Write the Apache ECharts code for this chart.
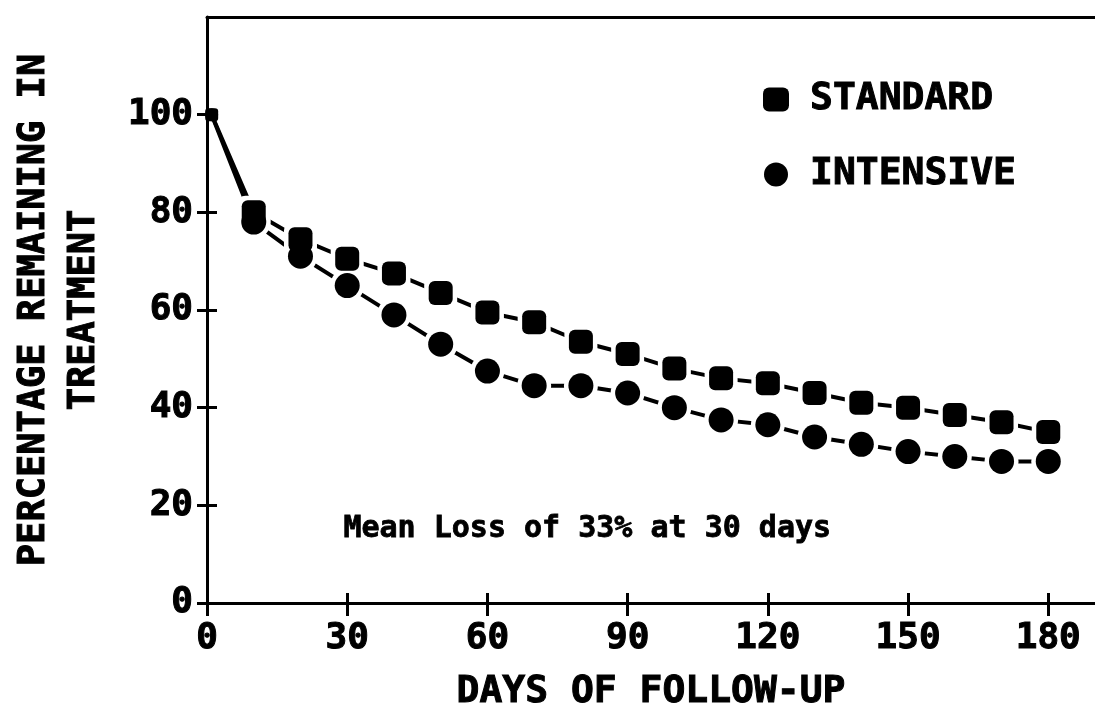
<!DOCTYPE html>
<html>
<head>
<meta charset="utf-8">
<script src="https://cdn.jsdelivr.net/npm/echarts@6/dist/echarts.min.js"></script>
<style>
  html, body { margin: 0; padding: 0; background: #fff; }
  #chart { width: 1095px; height: 709px; }
</style>
</head>
<body>
<div id="chart"></div>
<script>
/* Retention curves: standard vs intensive treatment. */
(function (window, document) {
  "use strict";

  const days = [1, 10, 20, 30, 40, 50, 60, 70, 80, 90, 100, 110, 120, 130, 140, 150, 160, 170, 180];
  const standard = [100, 80, 74.5, 70.5, 67.5, 63.5, 59.5, 57.5, 53.5, 51, 48, 46, 45, 43, 41, 40, 38.5, 37, 35];
  const intensive = [100, 78, 71, 65, 59, 53, 47.5, 44.5, 44.5, 43, 40, 37.5, 36.5, 34, 32.5, 31, 30, 29, 29];
  const xTicks = [0, 30, 60, 90, 120, 150, 180];
  const yTicks = [0, 20, 40, 60, 80, 100];
  const note = "Mean Loss of 33% at 30 days";

  const ink = "#000";
  const mono = "'DejaVu Sans Mono', 'Liberation Mono', monospace";

  function pairs(ys) { return days.map(function (d, i) { return [d, ys[i]]; }); }
  function firstSmall(big, small) {
    return function (v, p) { return p.dataIndex === 0 ? small : big; };
  }

  const chart = echarts.init(document.getElementById("chart"), null, { renderer: "canvas" });

  // heavy plotter-style lettering: bold mono plus a thin same-colour stroke
  function heavy(size, extra) {
    return Object.assign({
      color: ink, fontFamily: mono, fontWeight: "bold", fontSize: size,
      textBorderColor: ink, textBorderWidth: 1,
    }, extra || {});
  }

  function lineSeries(name, ys) {
    return {
      name: name, type: "line", data: pairs(ys), showSymbol: false, symbol: "none",
      lineStyle: { color: ink, width: 4 }, z: 1, silent: true,
    };
  }
  function haloSeries(name, ys, symbol, size) {
    return {
      name: name, type: "scatter", data: pairs(ys), symbol: symbol,
      symbolSize: firstSmall(size, 0),
      itemStyle: { color: "#fff", opacity: 1 }, z: 2, silent: true,
    };
  }
  function markSeries(name, ys, symbol, size) {
    return {
      name: name, type: "scatter", data: pairs(ys), symbol: symbol,
      symbolSize: firstSmall(size, 13),
      itemStyle: { color: ink, opacity: 1 }, z: 3,
    };
  }

  chart.setOption({
    animation: false,
    backgroundColor: "#fff",
    grid: { left: 207, right: 0, top: 17, bottom: 106, containLabel: false, outerBoundsMode: "none" },
    legend: {
      orient: "vertical", left: 758, top: 75,
      itemWidth: 26, itemHeight: 24, itemGap: 36,
      data: [{ name: "STANDARD", icon: "roundRect" }, { name: "INTENSIVE", icon: "circle" }],
      itemStyle: { borderWidth: 0 },
      textStyle: heavy(38, { padding: [0, 0, 0, 16] }),
    },
    graphic: [{
      type: "text", left: 343, top: 514,
      style: { text: note, fill: ink, font: "bold 30px " + mono, stroke: ink, lineWidth: 0.8 },
    }],
    xAxis: [
      {
        type: "value", min: 0, max: 190, interval: 30,
        name: "DAYS OF FOLLOW-UP", nameLocation: "middle", nameGap: 70,
        nameTextStyle: heavy(38),
        axisLine: { show: true, lineStyle: { color: ink, width: 3 } },
        axisTick: { show: true, inside: false, length: 13, lineStyle: { color: ink, width: 3 }, customValues: xTicks },
        axisLabel: heavy(36, { margin: 18, customValues: xTicks }),
        splitLine: { show: false },
      },
      {
        type: "value", min: 0, max: 190, position: "bottom",
        axisLine: { show: false },
        axisTick: { show: true, inside: true, length: 10, lineStyle: { color: ink, width: 3 }, customValues: xTicks },
        axisLabel: { show: false },
        splitLine: { show: false },
      },
      {
        type: "value", min: 0, max: 190, position: "top",
        axisLine: { show: true, lineStyle: { color: ink, width: 3 } },
        axisTick: { show: false }, axisLabel: { show: false }, splitLine: { show: false },
      },
    ],
    yAxis: [
      {
        type: "value", min: 0, max: 120, interval: 20,
        name: "PERCENTAGE REMAINING IN\nTREATMENT", nameLocation: "middle", nameGap: 98, nameRotate: 90,
        nameTextStyle: heavy(37, { lineHeight: 50 }),
        axisLine: { show: true, lineStyle: { color: ink, width: 3 } },
        axisTick: { show: true, inside: false, length: 10, lineStyle: { color: ink, width: 3 }, customValues: yTicks },
        axisLabel: heavy(36, { margin: 14, customValues: yTicks }),
        splitLine: { show: false },
      },
      {
        type: "value", min: 0, max: 120, position: "left",
        axisLine: { show: false },
        axisTick: { show: true, inside: true, length: 10, lineStyle: { color: ink, width: 3 }, customValues: yTicks },
        axisLabel: { show: false },
        splitLine: { show: false },
      },
    ],
    series: [
      lineSeries("standard-line", standard),
      lineSeries("intensive-line", intensive),
      haloSeries("standard-halo", standard, "roundRect", 33),
      haloSeries("intensive-halo", intensive, "circle", 34),
      markSeries("STANDARD", standard, "roundRect", 24),
      markSeries("INTENSIVE", intensive, "circle", 25),
    ],
  });
})(window, document);
</script>
</body>
</html>
